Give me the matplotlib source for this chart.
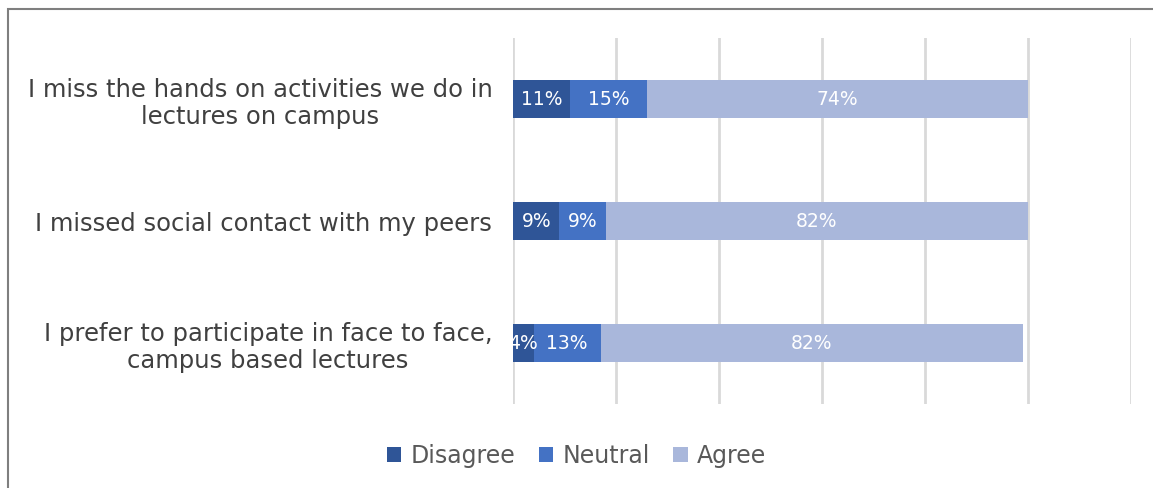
import matplotlib.pyplot as plt
from matplotlib.patches import Rectangle

statements = [
    "I miss the hands on activities we do in\nlectures on campus",
    "I missed social contact with my peers",
    "I prefer to participate in face to face,\ncampus based lectures",
]
disagree = [11, 9, 4]
neutral = [15, 9, 13]
agree = [74, 82, 82]

series = [("Disagree", disagree, "#2F5597"),
          ("Neutral", neutral, "#4472C4"),
          ("Agree", agree, "#A9B7DB")]

plt.rcParams['font.family'] = ['DejaVu Sans']

fig = plt.figure(figsize=(11.53, 4.88), dpi=100)
ax = fig.add_axes([0.445, 0.172, 0.536, 0.750])

ypos = list(range(len(statements)))
left = [0] * len(statements)
for name, vals, color in series:
    frac = [v / 100 for v in vals]
    bars = ax.barh(ypos, frac, left=left, height=0.31, color=color,
                   label=name, zorder=3)
    for y, l, w, v in zip(ypos, left, frac, vals):
        ax.text(l + w / 2, y, f"{v}%", ha='center', va='center',
                color='white', fontsize=13.5, zorder=4, clip_on=True)
    left = [a + b for a, b in zip(left, frac)]

ax.set_xlim(0, 1.2)
ax.set_ylim(2.5, -0.5)
ax.set_xticks([i * 0.2 for i in range(7)])
ax.set_xticklabels([])
ax.tick_params(axis='x', length=0)
ax.tick_params(axis='y', length=0, pad=15)
ax.set_yticks(ypos)
ax.set_yticklabels(statements, fontsize=17.5, color='#404040',
                   multialignment='center', linespacing=1.2)
ax.grid(axis='x', color='#D9D9D9', linewidth=2, zorder=0)
for s in ax.spines.values():
    s.set_visible(False)

fig.legend(loc='center', bbox_to_anchor=(0.5, 0.066), ncol=3, frameon=False,
           fontsize=17, labelcolor='#595959', handlelength=0.6,
           handleheight=0.6, handletextpad=0.4, columnspacing=1.0)

# outer chart border
fig.patches.append(Rectangle((8 / 1153, -0.1), 1.2, (1 - 9 / 488) + 0.1,
                             transform=fig.transFigure, fill=False,
                             edgecolor='#7F7F7F', linewidth=1.5))

fig.savefig("out.png", dpi=100)
